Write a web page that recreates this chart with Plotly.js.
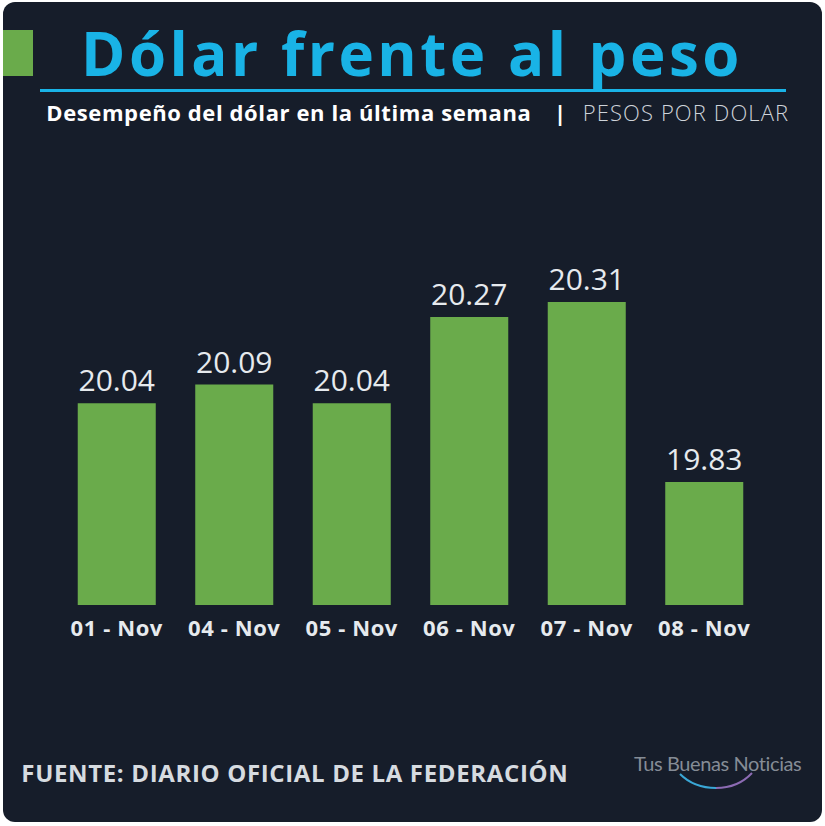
<!DOCTYPE html>
<html>
<head>
<meta charset="utf-8">
<script src="https://cdn.plot.ly/plotly-3.0.1.min.js"></script>
<style>
  html, body { margin: 0; padding: 0; background: #ffffff; }
  #chart { width: 825px; height: 826px; clip-path: inset(2px 3px 4px 3px round 12px); }
  #chart .annotation[data-index="0"] text { letter-spacing: 3.5px; }
  #chart .annotation[data-index="1"] text { letter-spacing: 0.6px; }
  #chart .annotation[data-index="3"] text { letter-spacing: 1.1px; }
  #chart .annotation[data-index="4"] text { letter-spacing: 0.65px; }
  #chart .annotation[data-index="5"] text { letter-spacing: -0.4px; }
  #chart .xtick text { letter-spacing: 0.6px; }
</style>
</head>
<body>
<div id="chart"></div>
<script>
// ---- data ----
const categories = ["01 - Nov", "04 - Nov", "05 - Nov", "06 - Nov", "07 - Nov", "08 - Nov"];
const values = [20.04, 20.09, 20.04, 20.27, 20.31, 19.83];
const titleText = "Dólar frente al peso";
const subtitleText = "Desempeño del dólar en la última semana";
const unitText = "PESOS POR DOLAR";
const sourceText = "FUENTE: DIARIO OFICIAL DE LA FEDERACIÓN";
const logoText = "Tus Buenas Noticias";

// ---- layout geometry ----
const W = 825, H = 826;
const M = { l: 58, r: 62, t: 175, b: 221 };
const pw = W - M.l - M.r, ph = H - M.t - M.b;
const px = x => (x - M.l) / pw;
const py = y => (H - M.b - y) / ph;

const BG = "#161d2a";
const CYAN = "#19b3e6";
const GREEN = "#6aab4b";
const TXT = "#e6eaee";
const FONT = "Open Sans, Noto Sans, sans-serif";

const trace = {
  type: "bar",
  x: categories,
  y: values,
  marker: { color: GREEN },
  texttemplate: "%{y:.2f}",
  textposition: "outside",
  textfont: { family: FONT, size: 30, color: TXT },
  cliponaxis: false,
  hoverinfo: "skip"
};

const layout = {
  width: W, height: H,
  margin: M,
  paper_bgcolor: BG,
  plot_bgcolor: BG,
  bargap: 0.336,
  showlegend: false,
  font: { family: FONT, color: TXT },
  xaxis: {
    type: "category",
    showgrid: false, zeroline: false, showline: false,
    ticks: "",
    ticklabelstandoff: 8,
    tickfont: { family: FONT, size: 22, color: TXT, weight: "bold" },
    fixedrange: true
  },
  yaxis: {
    range: [19.502, 20.649],
    visible: false,
    showgrid: false, zeroline: false,
    fixedrange: true
  },
  shapes: [
    { type: "rect", xref: "paper", yref: "paper", x0: px(3), x1: px(33), y0: py(76), y1: py(30),
      fillcolor: GREEN, line: { width: 0 } },
    { type: "line", xref: "paper", yref: "paper", x0: px(40), x1: px(786), y0: py(90.5), y1: py(90.5),
      line: { color: CYAN, width: 3 } },
    { type: "path", xref: "paper", yref: "paper",
      path: `M ${px(680)} ${py(774)} Q ${px(694)} ${py(788)} ${px(716)} ${py(788)}`,
      line: { color: "#3aa7d6", width: 2 } },
    { type: "path", xref: "paper", yref: "paper",
      path: `M ${px(716)} ${py(788)} Q ${px(738)} ${py(788)} ${px(752)} ${py(773)}`,
      line: { color: "#8c6bb3", width: 2 } }
  ],
  annotations: [
    { text: titleText, xref: "paper", yref: "paper", x: px(412), y: py(53), xanchor: "center", yanchor: "middle",
      showarrow: false, font: { family: FONT, size: 60, color: CYAN, weight: "bold" } },
    { text: subtitleText, xref: "paper", yref: "paper", x: px(288.5), y: py(112), xanchor: "center", yanchor: "middle",
      showarrow: false, font: { family: FONT, size: 22, color: "#ffffff", weight: "bold" } },
    { text: "|", xref: "paper", yref: "paper", x: px(560), y: py(112), xanchor: "center", yanchor: "middle",
      showarrow: false, font: { family: FONT, size: 22, color: "#ffffff", weight: "bold" } },
    { text: unitText, xref: "paper", yref: "paper", x: px(686), y: py(112), xanchor: "center", yanchor: "middle",
      showarrow: false, font: { family: FONT, size: 22, color: "#cfd4da", weight: 300 } },
    { text: sourceText, xref: "paper", yref: "paper", x: px(294.5), y: py(772), xanchor: "center", yanchor: "middle",
      showarrow: false, font: { family: FONT, size: 24, color: "#d6dbe0", weight: "bold" } },
    { text: logoText, xref: "paper", yref: "paper", x: px(717), y: py(763), xanchor: "center", yanchor: "middle",
      showarrow: false, font: { family: "Lato, sans-serif", size: 20, color: "#858c96" } }
  ]
};

Plotly.newPlot("chart", [trace], layout, { displayModeBar: false, staticPlot: true });
</script>
</body>
</html>
